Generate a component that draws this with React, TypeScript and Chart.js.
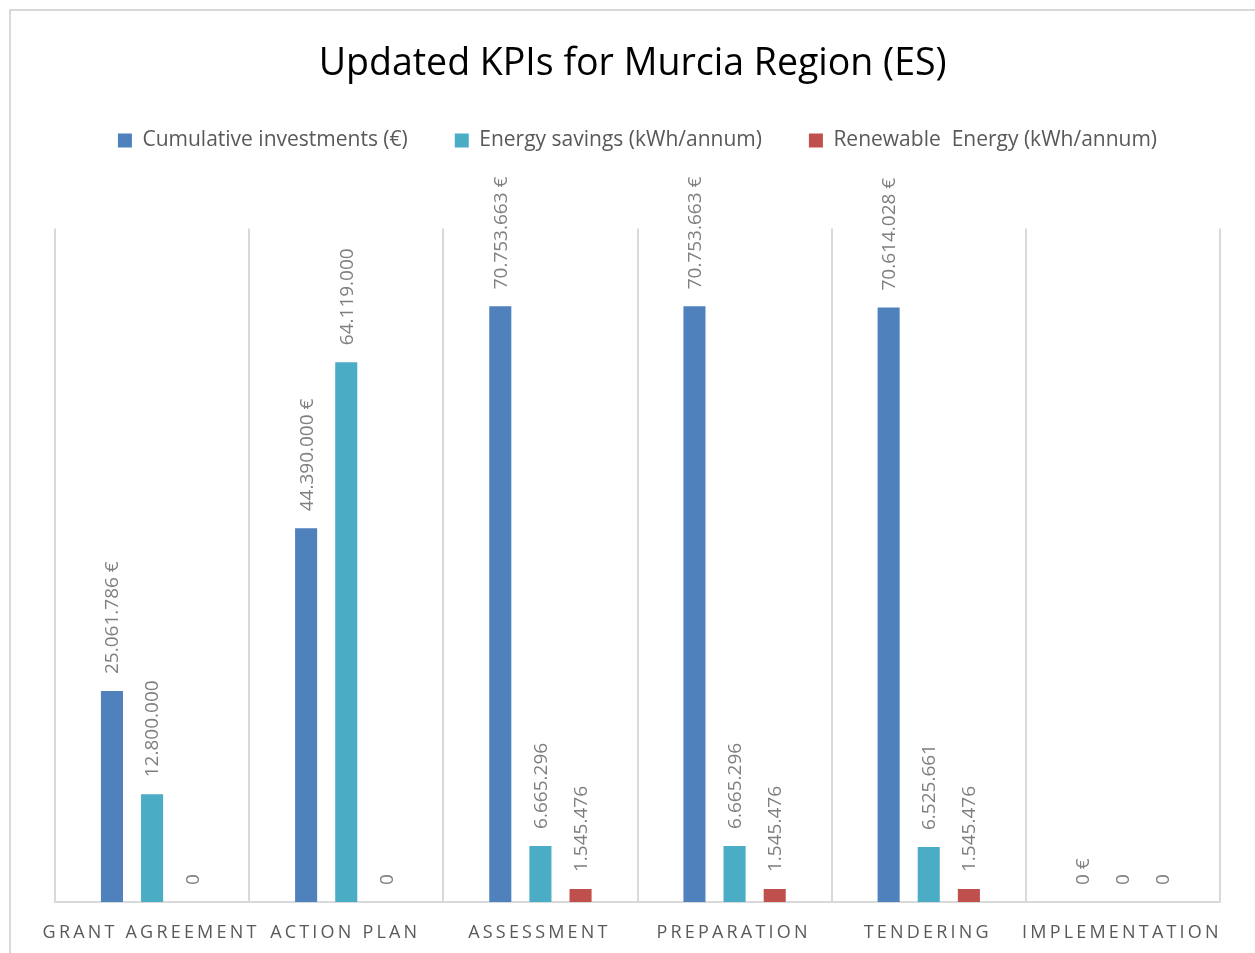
import React, { useEffect, useRef } from 'react';
import { Chart, registerables } from 'chart.js';

Chart.register(...registerables);

const categories = ['GRANT AGREEMENT', 'ACTION PLAN', 'ASSESSMENT', 'PREPARATION', 'TENDERING', 'IMPLEMENTATION'];
const investments = [25061786, 44390000, 70753663, 70753663, 70614028, 0];
const energySavings = [12800000, 64119000, 6665296, 6665296, 6525661, 0];
const renewableEnergy = [0, 0, 1545476, 1545476, 1545476, 0];
const seriesNames = ['Cumulative investments (€)', 'Energy savings (kWh/annum)', 'Renewable  Energy (kWh/annum)'];
const seriesSuffix = [' €', '', ''];
const seriesColors = ['#4f81bd', '#4bacc6', '#c0504d'];
const yMin = 0;
const yMax = 80000000;

const FONT = '"Open Sans", "Noto Sans", sans-serif';

const fmt = (v: number) => String(Math.round(v)).replace(/\B(?=(\d{3})+(?!\d))/g, '.');

const legendHeightPlugin = {
  id: 'legendHeight',
  beforeLayout(chart: any) {
    const lg = chart.legend;
    if (lg && !lg.__patched) {
      const orig = lg.fit;
      lg.fit = function () {
        orig.call(this);
        this.height = 145.5;
      };
      lg.__patched = true;
    }
  },
};

const barLabelPlugin = {
  id: 'barLabels',
  afterDatasetsDraw(chart: any) {
    const ctx = chart.ctx;
    ctx.save();
    ctx.font = `19px ${FONT}`;
    ctx.fillStyle = '#7f7f7f';
    ctx.textAlign = 'left';
    ctx.textBaseline = 'middle';
    chart.data.datasets.forEach((ds: any, di: number) => {
      const meta = chart.getDatasetMeta(di);
      meta.data.forEach((el: any, i: number) => {
        const v = ds.data[i] as number;
        const text = fmt(v) + seriesSuffix[di];
        ctx.save();
        ctx.translate(el.x + 1, el.y - 17);
        ctx.rotate(-Math.PI / 2);
        ctx.fillText(text, 0, 0);
        ctx.restore();
      });
    });
    ctx.restore();
  },
};

const xLabelPlugin = {
  id: 'xLabels',
  afterDraw(chart: any) {
    const ctx = chart.ctx;
    const xs = chart.scales.x;
    ctx.save();
    ctx.font = `18px ${FONT}`;
    ctx.fillStyle = '#595959';
    ctx.textAlign = 'center';
    ctx.textBaseline = 'middle';
    const spacing = 3.2;
    (ctx as any).letterSpacing = `${spacing}px`;
    categories.forEach((c, i) => {
      const x = xs.getPixelForValue(i) - 1;
      ctx.fillText(c, x, chart.chartArea.bottom + 31);
    });
    ctx.restore();
  },
};

export default function App() {
  const ref = useRef<HTMLCanvasElement | null>(null);

  useEffect(() => {
    if (!ref.current) return;
    Chart.defaults.font.family = FONT;
    const chart = new Chart(ref.current, {
      type: 'bar',
      data: {
        labels: categories,
        datasets: [investments, energySavings, renewableEnergy].map((d, i) => ({
          label: seriesNames[i],
          data: d,
          backgroundColor: seriesColors[i],
          borderWidth: 0,
          categoryPercentage: 0.62,
          barPercentage: 0.55,
        })),
      },
      options: {
        animation: false,
        responsive: false,
        devicePixelRatio: 1,
        layout: { padding: { left: 44, right: 35, top: 0, bottom: 51 } },
        plugins: {
          title: {
            display: true,
            text: 'Updated KPIs for Murcia Region (ES) ',
            color: '#000000',
            font: { size: 37.5, weight: 'normal', lineHeight: 1.0 },
            padding: { top: 34.5, bottom: 0 },
          },
          legend: {
            display: true,
            position: 'top',
            labels: {
              color: '#595959',
              font: { size: 21 },
              boxWidth: 14,
              boxHeight: 14,
              padding: 47,
            },
          },
          tooltip: { enabled: false },
        },
        scales: {
          x: {
            grid: { display: true, offset: true, color: '#d9d9d9', lineWidth: 2, drawTicks: false },
            border: { display: true, color: '#d9d9d9', width: 2 },
            ticks: { display: false },
          },
          y: {
            display: false,
            min: yMin,
            max: yMax,
          },
        },
      },
      plugins: [legendHeightPlugin, barLabelPlugin, xLabelPlugin],
    } as any);
    return () => chart.destroy();
  }, []);

  return (
    <div
      style={{
        position: 'fixed',
        left: 9,
        top: 9,
        width: 1260,
        height: 960,
        borderTop: '2px solid #d9d9d9',
        borderLeft: '2px solid #d9d9d9',
        background: '#ffffff',
      }}
    >
      <canvas ref={ref} width={1244} height={942} style={{ display: 'block' }} />
    </div>
  );
}
